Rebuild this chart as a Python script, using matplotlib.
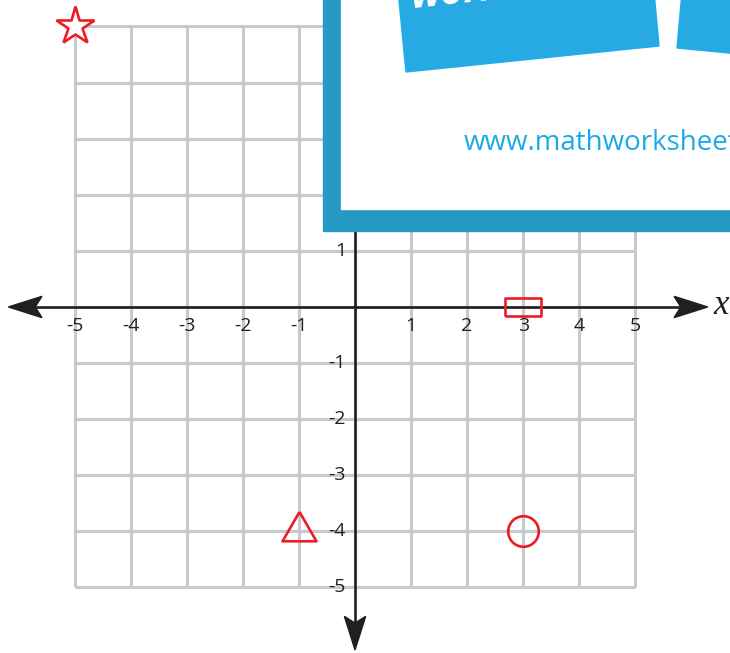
import matplotlib.pyplot as plt
from matplotlib.patches import Polygon, Rectangle

# grid range and tick labels
grid_vals = [-5, -4, -3, -2, -1, 0, 1, 2, 3, 4, 5]
x_ticks = [-5, -4, -3, -2, -1, 1, 2, 3, 4, 5]
y_ticks = [5, 4, 3, 2, 1, -1, -2, -3, -4, -5]

# plotted points
star_pt = (-5, 5)
rect_pt = (3, 0)
tri_pt = (-1, -4)
circ_pt = (3, -4)

red = '#ED1C24'
gray = '#C8C9CB'

fig = plt.figure(figsize=(7.30, 6.53), dpi=100)
ax = fig.add_axes([0, 0, 1, 1])
ax.set_xlim(-6.334, 6.69)
ax.set_ylim(-6.168, 5.472)
ax.axis('off')

# grid
for v in grid_vals:
    ax.plot([v, v], [-5, 5], color=gray, lw=2.2, zorder=1, solid_capstyle='butt')
    ax.plot([-5, 5], [v, v], color=gray, lw=2.2, zorder=1, solid_capstyle='butt')

# axes with arrows
x_left, x_right, y_bot, y_top = -6.185, 6.292, -6.114, 5.6
hl, hw, nt = 0.48, 0.19, 0.12
ax.plot([x_left + 0.2, x_right - 0.2], [0, 0], color='#231F20', lw=1.9, zorder=3)
ax.plot([0, 0], [y_bot + 0.2, y_top], color='#231F20', lw=1.9, zorder=3)
ax.add_patch(Polygon([(x_left, 0), (x_left + hl + nt, hw), (x_left + hl, 0), (x_left + hl + nt, -hw)],
                     closed=True, color='#231F20', zorder=4))
ax.add_patch(Polygon([(x_right, 0), (x_right - hl - nt, hw), (x_right - hl, 0), (x_right - hl - nt, -hw)],
                     closed=True, color='#231F20', zorder=4))
ax.add_patch(Polygon([(0, y_bot), (hw, y_bot + hl + nt), (0, y_bot + hl), (-hw, y_bot + hl + nt)],
                     closed=True, color='#231F20', zorder=4))
ax.text(6.40, 0.02, 'x', family='Liberation Serif', style='italic', fontsize=25,
        ha='left', va='center', color='#231F20', zorder=5)

# tick labels
for t in x_ticks:
    ax.text(t, -0.34, str(t), family='Open Sans', fontsize=14, ha='center', va='center',
            color='#231F20', zorder=5)
for t in y_ticks:
    ax.text(-0.16, t, str(t), family='Open Sans', fontsize=14, ha='right', va='center',
            color='#231F20', zorder=5)

# markers
ax.plot(*star_pt, marker='*', ms=28.5, mfc='white', mec=red, mew=1.9, zorder=6)
rect_verts = [(-18.5, -9.5), (18.5, -9.5), (18.5, 9.5), (-18.5, 9.5), (-18.5, -9.5)]
ax.plot(*rect_pt, marker=rect_verts, ms=26.6, mfc='none', mec=red, mew=1.9, zorder=6)
tri_verts = [(0, 19.6), (-17, -9.8), (17, -9.8), (0, 19.6)]
ax.plot(*tri_pt, marker=tri_verts, ms=28.2, mfc='none', mec=red, mew=1.9, zorder=6)
ax.plot(*circ_pt, marker='o', ms=22, mfc='none', mec=red, mew=1.9, zorder=6)

# overlay banner in pixel coordinates
ov = fig.add_axes([0, 0, 1, 1])
ov.set_xlim(0, 730)
ov.set_ylim(653, 0)
ov.axis('off')
ov.patch.set_visible(False)
ov.add_patch(Rectangle((323, -20), 500, 251, color='#2599C4'))
ov.add_patch(Rectangle((341, -20), 500, 229, color='white'))
ov.add_patch(Polygon([(396, -30), (406, 72), (659, 46), (652, -30)], closed=True,
                     fc='#27A9E1', ec='#1FAEEC', lw=1))
ov.add_patch(Polygon([(684, -30), (677, 48), (760, 56), (760, -30)], closed=True,
                     fc='#27A9E1', ec='#1FAEEC', lw=1))
ov.text(412, 8, 'worksheets', family='Open Sans', weight='bold', style='italic',
        fontsize=28, color='white', rotation=6, rotation_mode='anchor',
        ha='left', va='baseline', clip_on=True)
ov.text(464, 150, 'www.mathworksheets4kids.com', family='Open Sans', fontsize=20,
        color='#1CAAE4', ha='left', va='baseline', clip_on=True)

fig.savefig('out.png', dpi=100)
